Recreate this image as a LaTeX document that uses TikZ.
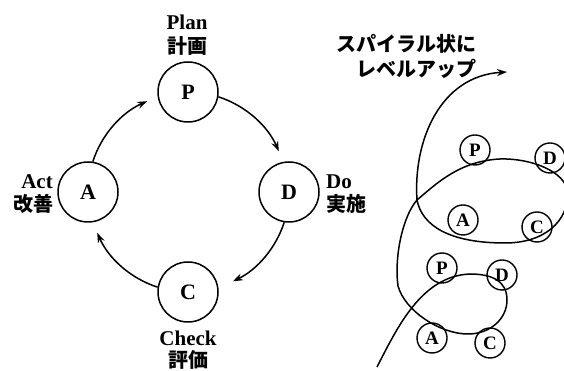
\documentclass[tikz,border=0pt]{standalone}
\usepackage{fontspec}
\setmainfont{Liberation Serif}
\newfontfamily\jfont{Noto Sans CJK JP}
\usetikzlibrary{arrows.meta}
\begin{document}
\begin{tikzpicture}[x=1pt,y=1pt,
  big/.style={circle,draw,line width=1.5pt,minimum size=60pt,inner sep=0pt,font=\fontsize{22}{22}\selectfont\bfseries},
  small/.style={circle,draw,line width=1.4pt,minimum size=30pt,inner sep=0pt,font=\fontsize{19}{19}\selectfont\bfseries},
  lab/.style={inner sep=0pt,font=\fontsize{21}{21}\selectfont\bfseries},
  jlab/.style={inner sep=0pt,font=\fontsize{20}{20}\selectfont\jfont\bfseries},
  arr/.style={line width=1.5pt,-{Stealth[length=10pt,width=7pt]}}]
\useasboundingbox (0,0) rectangle (564,371);
\clip (0,0) rectangle (564,371);
% left PDCA cycle
\coordinate (O) at (188,179);
\node[big] (P) at (188,279) {P};
\node[big] (D) at (289,179) {D};
\node[big] (C) at (188,79) {C};
\node[big] (A) at (88,179) {A};
\node[lab] (plan) at (187,349) {Plan};
\node[jlab] (plan-j) at (187,325) {計画};
\node[lab,anchor=east] (act) at (53,189) {Act};
\node[jlab,anchor=east] (act-j) at (54,167) {改善};
\node[lab,anchor=west] (do) at (326,189) {Do};
\node[jlab,anchor=west] (do-j) at (326,167) {実施};
\node[lab] (check) at (188,33) {Check};
\node[jlab] (check-j) at (188,11) {評価};
\draw[arr] (P.-9) arc[start angle=72,end angle=24,radius=100];
\draw[arr] (D.-99) arc[start angle=-18,end angle=-64,radius=100];
\draw[arr] (C.171) arc[start angle=-108,end angle=-156,radius=100];
\draw[arr] (A.81) arc[start angle=162,end angle=114,radius=100];
% right spiral
\node[jlab,anchor=east] (sp1) at (477,327) {スパイラル状に};
\node[jlab,anchor=east] (sp2) at (477,302) {レベルアップ};
\coordinate (s0) at (377,4);
\coordinate (l1) at (470,97);
\coordinate (l2) at (507,71);
\coordinate (l3) at (468,37);
\coordinate (l4) at (398,85);
\coordinate (x1) at (417,171);
\coordinate (u1) at (500,212);
\coordinate (u2) at (568,178);
\coordinate (u3) at (505,128);
\coordinate (tip) at (507,299);
\draw[arr] (s0) .. controls (398,45) and (422,95) .. (l1)
  .. controls (492,97) and (507,90) .. (l2)
  .. controls (507,52) and (490,37) .. (l3)
  .. controls (440,37) and (405,60) .. (l4)
  .. controls (394,115) and (403,155) .. (x1)
  .. controls (437,188) and (460,210) .. (u1)
  .. controls (530,213) and (566,200) .. (u2)
  .. controls (568,150) and (545,128) .. (u3)
  .. controls (450,128) and (422,145) .. (x1)
  .. controls (413,230) and (440,295) .. (tip);
\node[small] (p2) at (475,221) {P};
\node[small] (d2) at (550,213) {D};
\node[small] (a2) at (463,151) {A};
\node[small] (c2) at (537,144) {C};
\node[small] (p1) at (442,103) {P};
\node[small] (d1) at (502,96) {D};
\node[small] (a1) at (432,33) {A};
\node[small] (c1) at (490,28) {C};
\end{tikzpicture}
\end{document}
